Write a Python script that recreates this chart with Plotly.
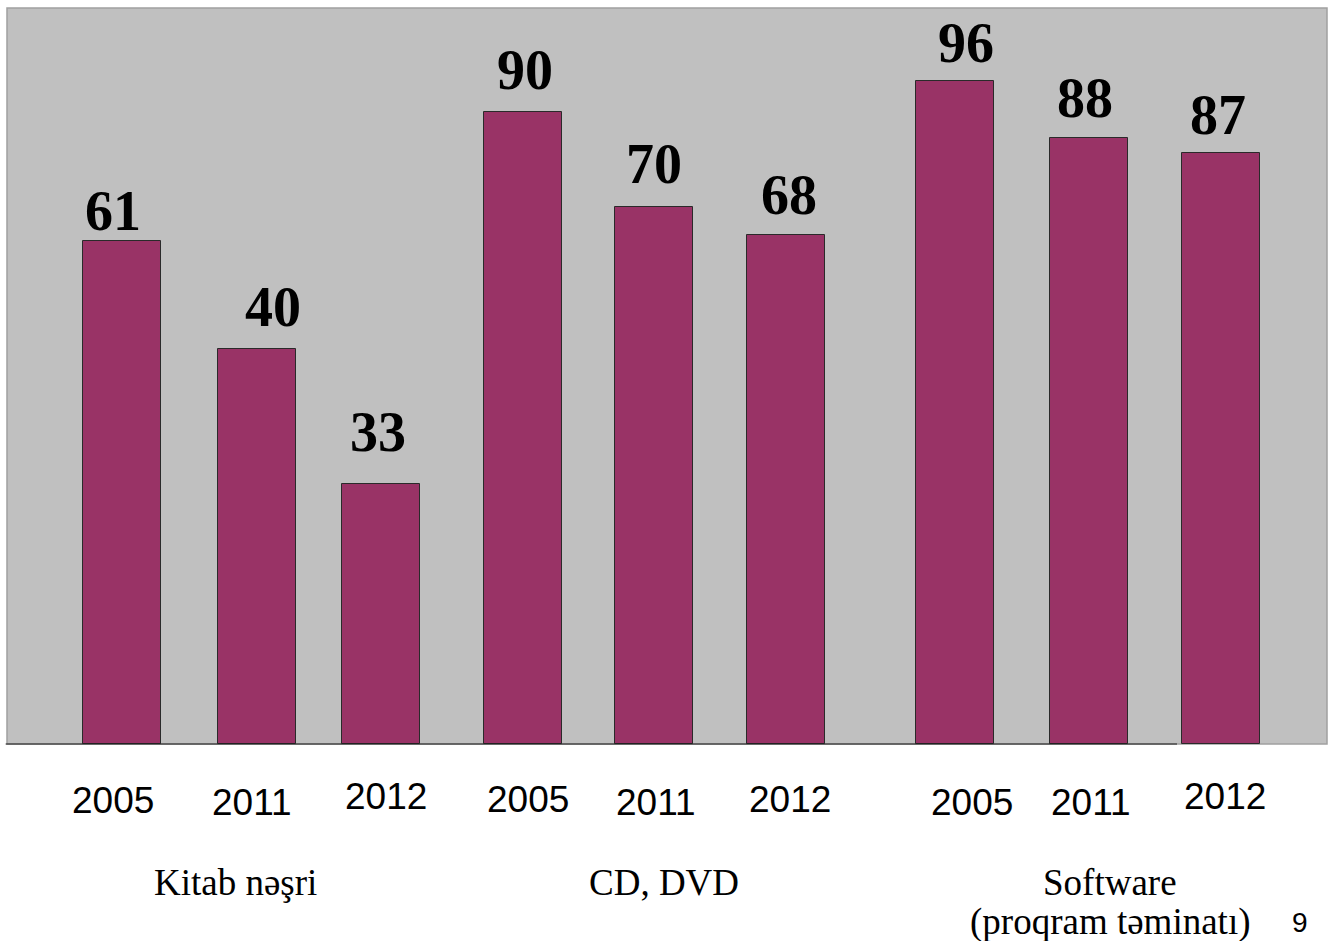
import plotly.graph_objects as go

# ---- data ----
groups = ["Kitab nəşri", "CD, DVD", "Software<br>(proqram təminatı)"]
years = ["2005", "2011", "2012", "2005", "2011", "2012", "2005", "2011", "2012"]
value_labels = [61, 40, 33, 90, 70, 68, 96, 88, 87]
bar_heights = [68.3, 53.7, 35.3, 85.9, 73.0, 69.2, 90.1, 82.3, 80.3]

# ---- layout helpers (positions, not data) ----
W, H = 1333, 941
L, R, T, B = 7, 6, 8, 197
PW, PH = W - L - R, H - T - B
bar_pos = [115, 250, 374, 515.5, 647, 778.5, 948, 1082, 1214]
label_dx = [-9, 16, -3, 2, 0, 3, 11, -4, -3]
label_dy = [30, 42, 52, 42, 43, 40, 38, 40, 38]
year_x = [113, 252, 386, 527.5, 656, 790, 972, 1091, 1225]
year_y = [800, 802.5, 796, 799, 802.5, 799, 802.5, 802.5, 796]
group_x = [235, 664, 1110]


def py(pix):
    return (T + PH - pix) / PH


fig = go.Figure()
fig.add_trace(go.Bar(
    x=bar_pos, y=bar_heights, width=78,
    marker=dict(color="#993366", line=dict(color="#2a2a2a", width=1)),
    hoverinfo="skip", showlegend=False,
))

serif = "Liberation Serif, Times New Roman, serif"
sans = "Liberation Sans, Arial, sans-serif"

ann = []
for i, v in enumerate(value_labels):
    ann.append(dict(x=bar_pos[i], y=bar_heights[i], xref="x", yref="y",
                    text=f"<b>{v}</b>", showarrow=False, yanchor="middle",
                    xshift=label_dx[i], yshift=label_dy[i],
                    font=dict(family=serif, size=56, color="black")))
for i, yr in enumerate(years):
    ann.append(dict(x=year_x[i] - L, y=py(year_y[i]), xref="x", yref="paper",
                    text=yr, showarrow=False, yanchor="middle",
                    font=dict(family=sans, size=37, color="black")))
group_y = [[882], [882], [882, 922]]
for i, g in enumerate(groups):
    for line, yy in zip(g.split("<br>"), group_y[i]):
        ann.append(dict(x=group_x[i] - L, y=py(yy), xref="x", yref="paper",
                        text=line, showarrow=False, yanchor="middle",
                        font=dict(family=serif, size=37, color="black")))
ann.append(dict(x=1300 - L, y=py(922), xref="x", yref="paper", text="9", showarrow=False,
                yanchor="middle", font=dict(family=sans, size=28, color="black")))

shapes = [
    dict(type="rect", xref="paper", yref="paper", x0=0, x1=1, y0=0, y1=1,
         line=dict(color="#a0a0a0", width=1.5), layer="below"),
    dict(type="line", xref="paper", yref="paper", x0=-0.001, x1=(1177 - L) / PW, y0=0, y1=0,
         line=dict(color="#1a1a1a", width=1.2)),
]

fig.update_layout(
    width=W, height=H,
    margin=dict(l=L, r=R, t=T, b=B, pad=0),
    paper_bgcolor="white", plot_bgcolor="#c0c0c0",
    xaxis=dict(range=[0, PW], visible=False, fixedrange=True),
    yaxis=dict(range=[0, 100], visible=False, fixedrange=True),
    annotations=ann, shapes=shapes, bargap=0,
)
fig.write_html("out.html", config={"displayModeBar": False},
               post_script="document.body.style.margin='0px';document.body.style.overflow='hidden';")
